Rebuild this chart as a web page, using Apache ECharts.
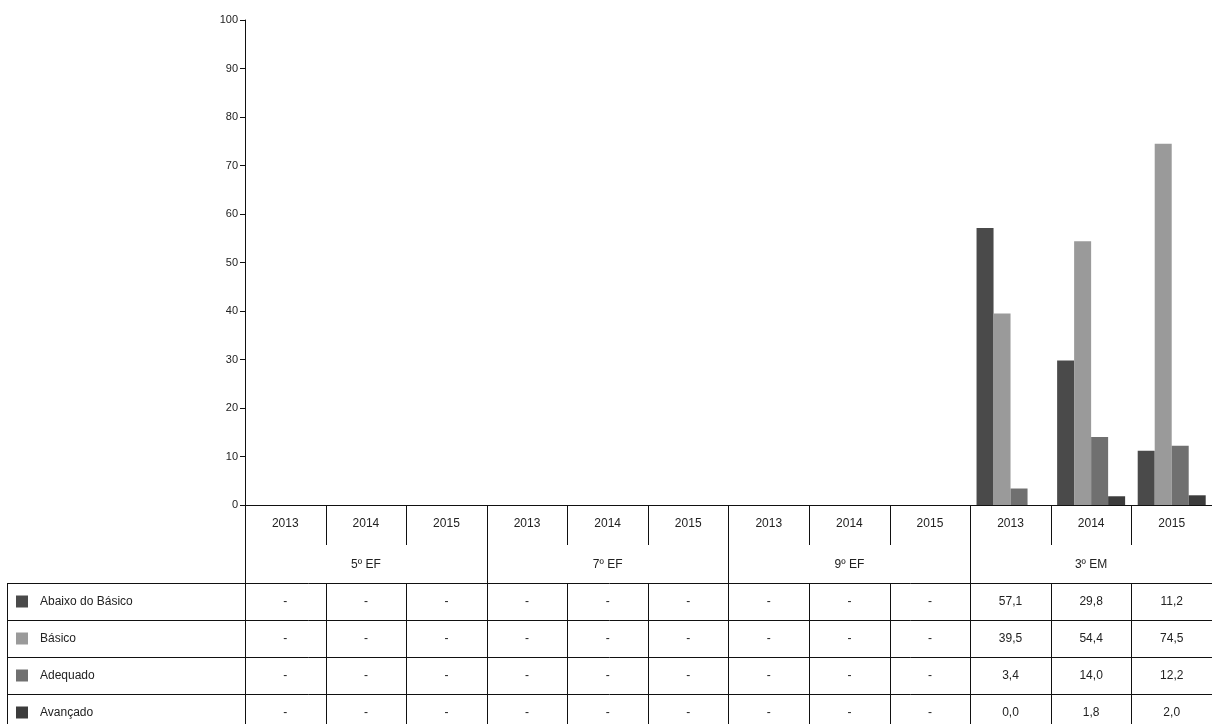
<!DOCTYPE html>
<html>
<head>
<meta charset="utf-8">
<script src="https://cdn.jsdelivr.net/npm/echarts@6/dist/echarts.min.js"></script>
<style>
  html, body { margin: 0; padding: 0; background: #fff; }
  #chart { width: 1212px; height: 724px; }
</style>
</head>
<body>
<div id="chart"></div>
<script>
// data
var years = ['2013', '2014', '2015', '2013', '2014', '2015', '2013', '2014', '2015', '2013', '2014', '2015'];
var groups = ['5º EF', '7º EF', '9º EF', '3º EM'];
var seriesNames = ['Abaixo do Básico', 'Básico', 'Adequado', 'Avançado'];
var abaixo = [null, null, null, null, null, null, null, null, null, 57.1, 29.8, 11.2];
var basico = [null, null, null, null, null, null, null, null, null, 39.5, 54.4, 74.5];
var adequado = [null, null, null, null, null, null, null, null, null, 3.4, 14.0, 12.2];
var avancado = [null, null, null, null, null, null, null, null, null, 0.0, 1.8, 2.0];
var yTicks = [0, 10, 20, 30, 40, 50, 60, 70, 80, 90, 100];

var seriesData = [abaixo, basico, adequado, avancado];
var colors = ['#4a4a4a', '#9a9a9a', '#707070', '#3c3c3c'];
var textColor = '#222';
var font = '"Liberation Sans", Arial, sans-serif';

var chart = echarts.init(document.getElementById('chart'));

var option = {
  backgroundColor: '#ffffff',
  animation: false,
  color: colors,
  grid: { left: 245, right: 0, top: 20, bottom: 219 },
  xAxis: {
    type: 'category',
    data: years,
    axisLine: { lineStyle: { color: '#111', width: 1 } },
    axisTick: { show: false },
    axisLabel: { color: textColor, fontFamily: font, fontSize: 12, margin: 13 }
  },
  yAxis: {
    type: 'value',
    min: yTicks[0],
    max: yTicks[yTicks.length - 1],
    interval: 10,
    axisLine: { show: true, lineStyle: { color: '#111', width: 1 } },
    axisTick: { show: true, length: 5, lineStyle: { color: '#111' } },
    axisLabel: { color: textColor, fontFamily: font, fontSize: 11, margin: 7 },
    splitLine: { show: false }
  },
  series: seriesNames.map(function (name, i) {
    return {
      name: name,
      type: 'bar',
      data: seriesData[i],
      barWidth: 17,
      barGap: '0%',
      itemStyle: { color: colors[i] }
    };
  })
};
chart.setOption(option);

// table under the axis, placed with the category scale
var fmt = function (v) {
  return v === null ? '-' : v.toFixed(1).replace('.', ',');
};
var c0 = chart.convertToPixel({ xAxisIndex: 0 }, 0);
var c1 = chart.convertToPixel({ xAxisIndex: 0 }, 1);
var band = c1 - c0;
var left = c0 - band / 2;
var axisY = 505;
var yearRowBottom = 545;
var headBottom = 583;
var rowH = 37;
var tableBottom = 724;
var lineStyle = { stroke: '#111', lineWidth: 1 };
var g = [];

function hline(x1, x2, y) {
  g.push({ type: 'line', shape: { x1: x1, y1: y, x2: x2, y2: y }, style: lineStyle, silent: true });
}
function vline(x, y1, y2) {
  g.push({ type: 'line', shape: { x1: x, y1: y1, x2: x, y2: y2 }, style: lineStyle, silent: true });
}
function label(txt, x, y, align) {
  g.push({
    type: 'text', x: x, y: y, silent: true,
    style: { text: txt, fill: textColor, font: '12px ' + font, align: align || 'center', verticalAlign: 'middle' }
  });
}

// vertical separators
for (var i = 0; i <= years.length; i++) {
  var x = Math.round(left + band * i) + 0.5;
  var isGroupEdge = i % 3 === 0;
  vline(x, axisY, isGroupEdge ? tableBottom : yearRowBottom);
  if (!isGroupEdge) vline(x, headBottom, tableBottom);
}
// group labels
groups.forEach(function (name, k) {
  label(name, left + band * (k * 3 + 1.5), 565);
});
// header bottom and row lines
hline(7, 1212, headBottom + 0.5);
for (var r = 1; r <= seriesNames.length; r++) {
  hline(7, 1212, headBottom + rowH * r + 0.5);
}
vline(7.5, headBottom, tableBottom);

// rows: legend key, name, values
seriesNames.forEach(function (name, s) {
  var cy = headBottom + rowH * s + rowH / 2;
  g.push({
    type: 'rect', silent: true,
    shape: { x: 16, y: cy - 6, width: 12, height: 12 },
    style: { fill: colors[s] }
  });
  label(name, 40, cy, 'left');
  seriesData[s].forEach(function (v, i) {
    label(fmt(v), left + band * (i + 0.5), cy);
  });
});

chart.setOption({ graphic: g });
</script>
</body>
</html>
